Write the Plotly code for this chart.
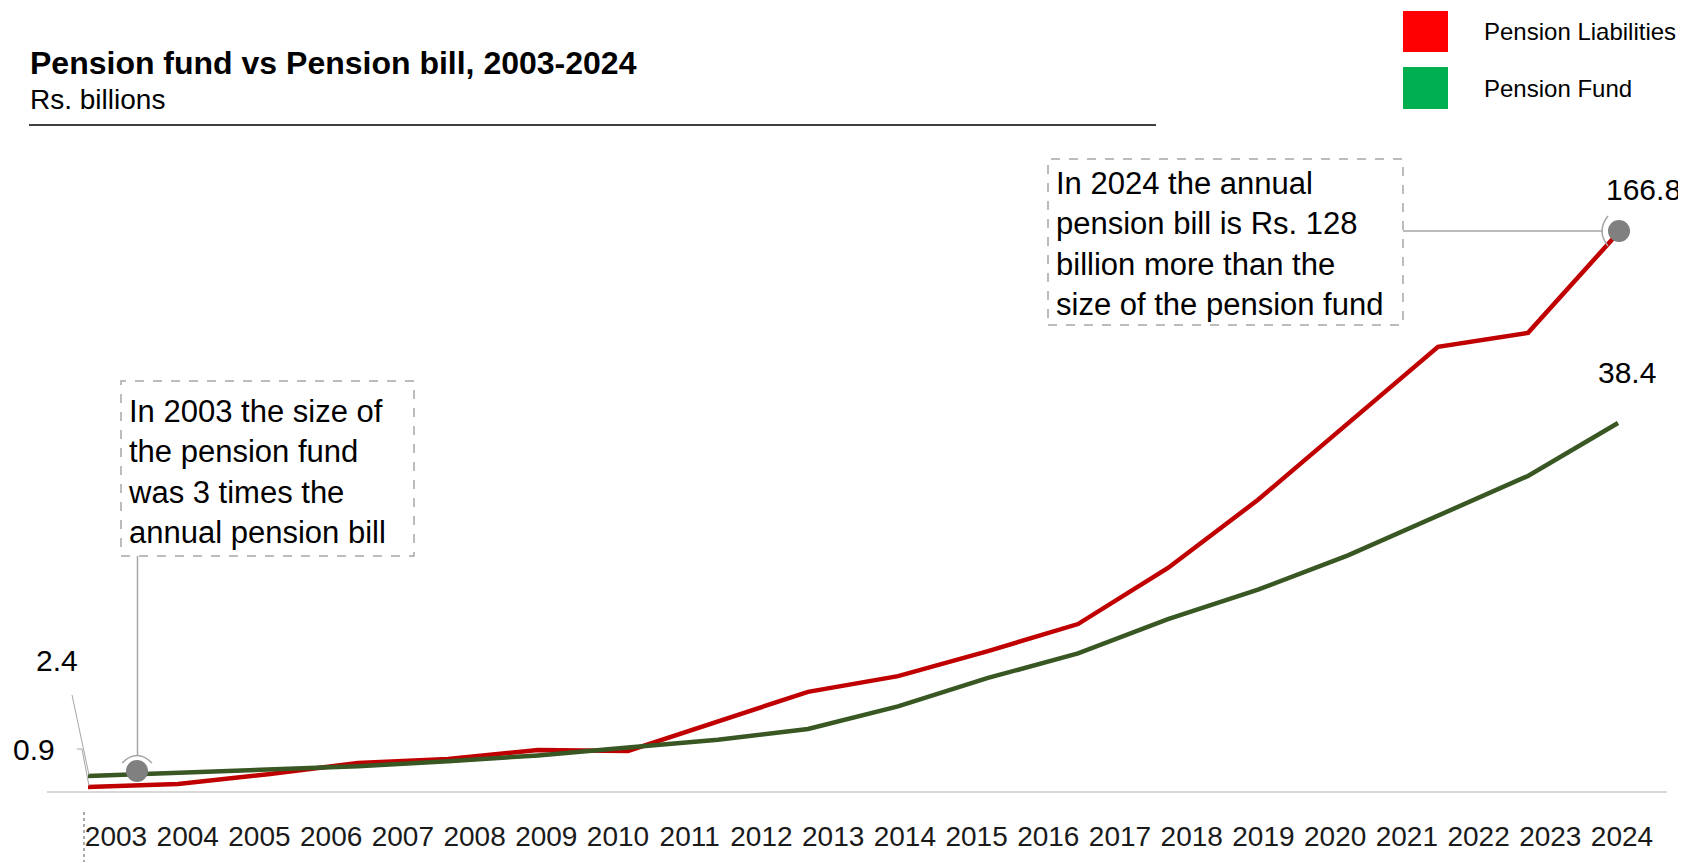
import plotly.graph_objects as go

W, H = 1686, 863
OFF = 8  # page margin of the html body

# ---------------- data ----------------
years = list(range(2003, 2025))
year_labels = [str(y) for y in years]
series_names = ["Pension Liabilities", "Pension Fund"]
liabilities = [0.9, 1.8, 4.7, 8.1, 9.3, 12.0, 11.7, 20.7, 29.4, 34.1, 41.6, 49.7,
               66.5, 86.9, 109.6, 132.7, 136.9, 166.8]
fund = [2.4, 2.7, 3.0, 3.4, 3.9, 4.5, 5.3, 6.1, 7.2, 9.5, 12.4, 14.9,
        18.4, 21.4, 24.9, 28.9, 33.0, 38.4]
title_text = "Pension fund vs Pension bill, 2003-2024"
subtitle_text = "Rs. billions"
note_2003 = ["In 2003 the size of", "the pension fund", "was 3 times the", "annual pension bill"]
note_2024 = ["In 2024 the annual", "pension bill is Rs. 128", "billion more than the", "size of the pension fund"]

# ---------------- helpers ----------------
FONT = "Liberation Sans, Arial, Helvetica, sans-serif"
RED_LINE = "#C00000"
GREEN_LINE = "#385723"
GREY = "#A6A6A6"


def px(x):
    return (x - OFF) / W


def py(y):
    return 1 - (y - OFF) / H


def axis_range(v0, p0, v1, p1, pa, pb):
    k = (v1 - v0) / (p1 - p0)
    return [v0 + (pa - p0) * k, v0 + (pb - p0) * k]


idx = list(range(len(liabilities)))

x_dom = [px(47), px(1667)]
x_range = axis_range(years[0], 116, years[-1], 1622, 47, 1667)
x2_range = axis_range(idx[0], 88, idx[-1], 1618, 47, 1667)
y_range = axis_range(0, 790, liabilities[-1], 233, H + OFF, OFF)
y2_range = axis_range(fund[0], 776, fund[-1], 423, H + OFF, OFF)

fig = go.Figure()

# invisible trace carrying the year axis
fig.add_trace(go.Scatter(x=years, y=[None] * len(years), xaxis="x", yaxis="y",
                         mode="lines", showlegend=False, hoverinfo="skip"))

fig.add_trace(go.Scatter(x=idx, y=liabilities, name=series_names[0], xaxis="x2", yaxis="y",
                         mode="lines", line=dict(color=RED_LINE, width=4.5), showlegend=False))
fig.add_trace(go.Scatter(x=idx, y=fund, name=series_names[1], xaxis="x2", yaxis="y2",
                         mode="lines", line=dict(color=GREEN_LINE, width=4.5), showlegend=False))

fig.update_layout(
    width=W, height=H, autosize=False,
    margin=dict(l=0, r=0, t=0, b=0),
    paper_bgcolor="white", plot_bgcolor="white",
    showlegend=False,
    xaxis=dict(domain=x_dom, range=x_range, anchor="free", position=py(792),
               tickmode="array", tickvals=years, ticktext=year_labels,
               tickfont=dict(family=FONT, size=28, color="#1a1a1a"),
               ticks="", ticklabelstandoff=19,
               showline=True, linecolor="#D9D9D9", linewidth=2,
               showgrid=False, zeroline=False, fixedrange=True),
    xaxis2=dict(overlaying="x", range=x2_range, visible=False, fixedrange=True),
    yaxis=dict(domain=[0, 1], range=y_range, visible=False, fixedrange=True),
    yaxis2=dict(overlaying="y", range=y2_range, visible=False, fixedrange=True),
)

shapes = []
annots = []

# header
annots.append(dict(x=px(28), y=py(63), xref="paper", yref="paper", xanchor="left", yanchor="middle",
                   text="<b>" + title_text + "</b>", showarrow=False,
                   font=dict(family=FONT, size=32, color="black")))
annots.append(dict(x=px(28), y=py(99), xref="paper", yref="paper", xanchor="left", yanchor="middle",
                   text=subtitle_text, showarrow=False,
                   font=dict(family=FONT, size=28, color="black")))
shapes.append(dict(type="line", xref="paper", yref="paper", x0=px(29), x1=px(1156), y0=py(125), y1=py(125),
                   line=dict(color="black", width=1.5)))

# legend
for (top, bot), col, name in zip([(11, 52), (67, 109)], ["#FF0000", "#00B050"], series_names):
    shapes.append(dict(type="rect", xref="paper", yref="paper", x0=px(1403), x1=px(1448),
                       y0=py(bot), y1=py(top), fillcolor=col, line=dict(width=0)))
    annots.append(dict(x=px(1482), y=py((top + bot) / 2), xref="paper", yref="paper",
                       xanchor="left", yanchor="middle", text=name, showarrow=False,
                       font=dict(family=FONT, size=24, color="black")))

# note boxes
shapes.append(dict(type="rect", xref="paper", yref="paper", x0=px(121), x1=px(414), y0=py(556), y1=py(381),
                   line=dict(color=GREY, width=1.5, dash="dash")))
annots.append(dict(x=px(126), y=py(472), xref="paper", yref="paper", xanchor="left", yanchor="middle",
                   align="left", text="<br>".join(note_2003), showarrow=False,
                   font=dict(family=FONT, size=31, color="black")))
shapes.append(dict(type="rect", xref="paper", yref="paper", x0=px(1048), x1=px(1403), y0=py(325), y1=py(159),
                   line=dict(color=GREY, width=1.5, dash="dash")))
annots.append(dict(x=px(1054), y=py(244), xref="paper", yref="paper", xanchor="left", yanchor="middle",
                   align="left", text="<br>".join(note_2024), showarrow=False,
                   font=dict(family=FONT, size=31, color="black")))

# connectors and markers
shapes.append(dict(type="line", xref="paper", yref="paper", x0=px(137.5), x1=px(137.5), y0=py(556), y1=py(755),
                   line=dict(color=GREY, width=1.5)))
shapes.append(dict(type="line", xref="paper", yref="paper", x0=px(1403), x1=px(1603), y0=py(231), y1=py(231),
                   line=dict(color=GREY, width=1.5)))
for cx, cy in [(137, 771), (1619, 231)]:
    shapes.append(dict(type="circle", xref="paper", yref="paper", x0=px(cx - 11), x1=px(cx + 11),
                       y0=py(cy + 11), y1=py(cy - 11), fillcolor="#808080", line=dict(width=0)))
shapes.append(dict(type="path", xref="paper", yref="paper",
                   path=f"M {px(122)},{py(763)} Q {px(137)},{py(748)} {px(152)},{py(763)}",
                   line=dict(color=GREY, width=1.5)))
shapes.append(dict(type="path", xref="paper", yref="paper",
                   path=f"M {px(1608)},{py(216)} Q {px(1596)},{py(231)} {px(1608)},{py(246)}",
                   line=dict(color=GREY, width=1.5)))

# value labels with leader lines
annots.append(dict(x=px(57), y=py(660), xref="paper", yref="paper", xanchor="center", yanchor="middle",
                   text=f"{fund[0]}", showarrow=False, font=dict(family=FONT, size=30, color="black")))
annots.append(dict(x=px(34), y=py(749), xref="paper", yref="paper", xanchor="center", yanchor="middle",
                   text=f"{liabilities[0]}", showarrow=False, font=dict(family=FONT, size=30, color="black")))
annots.append(dict(x=px(1643), y=py(189), xref="paper", yref="paper", xanchor="center", yanchor="middle",
                   text=f"{liabilities[-1]}", showarrow=False, font=dict(family=FONT, size=30, color="black")))
annots.append(dict(x=px(1627), y=py(372), xref="paper", yref="paper", xanchor="center", yanchor="middle",
                   text=f"{fund[-1]}", showarrow=False, font=dict(family=FONT, size=30, color="black")))
shapes.append(dict(type="line", xref="paper", yref="paper", x0=px(72), x1=px(89), y0=py(695), y1=py(775),
                   line=dict(color=GREY, width=1)))
shapes.append(dict(type="path", xref="paper", yref="paper",
                   path=f"M {px(77)},{py(749)} L {px(82)},{py(749)} L {px(89)},{py(786)}",
                   line=dict(color=GREY, width=1)))
shapes.append(dict(type="line", xref="paper", yref="paper", x0=px(84), x1=px(84), y0=py(812), y1=py(862),
                   line=dict(color="#555555", width=1, dash="dot")))

fig.update_layout(shapes=shapes, annotations=annots)
fig.write_html("out.html")
